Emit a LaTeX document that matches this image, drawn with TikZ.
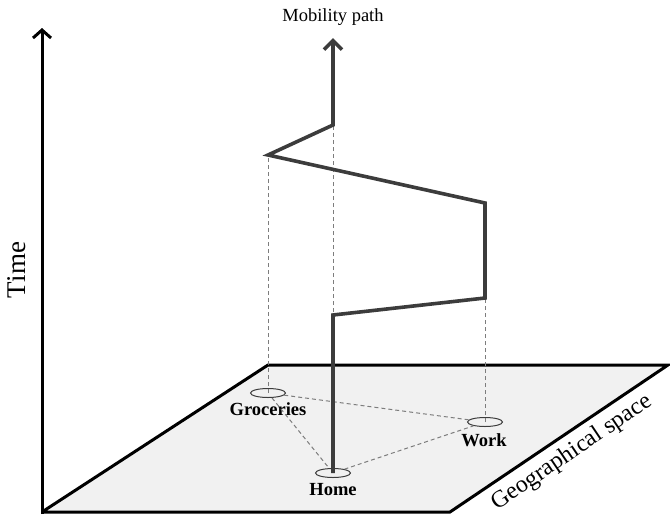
\documentclass[tikz,border=0pt]{standalone}
\usepackage{fontspec}
\setmainfont{Liberation Serif}
\usetikzlibrary{arrows.meta,shapes.geometric}
\definecolor{pathgray}{RGB}{60,60,60}
\definecolor{dashgray}{RGB}{125,125,125}
\definecolor{planefill}{RGB}{241,241,241}

\begin{document}
\begin{tikzpicture}[x=1pt, y=-1pt,
  place/.style={draw=pathgray, ellipse, minimum width=35pt, minimum height=9pt, inner sep=0pt, line width=1pt},
  placelabel/.style={font=\fontsize{18.5}{20}\selectfont\bfseries},
  guide/.style={dashgray, line width=1pt, dash pattern=on 4pt off 3pt},
  mobility/.style={pathgray, line width=3.6pt, line join=miter}]
\useasboundingbox (0,0) rectangle (670,515);

% Plane and time axis
\coordinate (origin) at (42,512);
\coordinate (planeback) at (268,365);
\coordinate (planefar) at (668,365);
\coordinate (planeright) at (450,512);
\coordinate (timetip) at (42,28);
\fill[planefill] (origin) -- (planeback) -- (planefar) -- (planeright) -- cycle;
\draw[line width=3pt, line join=miter] (origin) -- (planeback) -- (planefar) -- (planeright) -- (origin);
\draw[line width=3pt, -{Straight Barb[length=8pt,width=18pt]}] (42,514) -- (timetip);

\node[rotate=90, font=\fontsize{27}{30}\selectfont] (timelabel) at (17,270) {Time};
\node[rotate=34, font=\fontsize{24}{28}\selectfont] (spacelabel) at (572,453) {Geographical space};

% Places
\node[place] (home) at (333,473) {};
\node[place] (groceries) at (268,393) {};
\node[place] (work) at (485,422) {};
\node[placelabel] (homelabel) at (333,490) {Home};
\node[placelabel] (grocerieslabel) at (268,409) {Groceries};
\node[placelabel] (worklabel) at (484,440) {Work};

% Path corners
\coordinate (h1) at (333,315);
\coordinate (w1) at (485,298);
\coordinate (w2) at (485,203);
\coordinate (g1) at (268,155);
\coordinate (h2) at (333,125);
\coordinate (pathtip) at (333,38);

% Dashed guides
\draw[guide] (groceries.center) -- (g1);
\draw[guide] (home.center) -- (h2);
\draw[guide] (work.center) -- (w1);
\draw[guide] (groceries) -- (work);
\draw[guide] (groceries) -- (home);
\draw[guide] (home) -- (work);

% Mobility path
\draw[mobility, -{Straight Barb[length=9pt,width=18pt]}] (home.center) -- (h1) -- (w1) -- (w2) -- (g1) -- (h2) -- (pathtip);
\node[font=\fontsize{18.5}{20}\selectfont] (pathlabel) at (333,17) {Mobility path};
\end{tikzpicture}
\end{document}
